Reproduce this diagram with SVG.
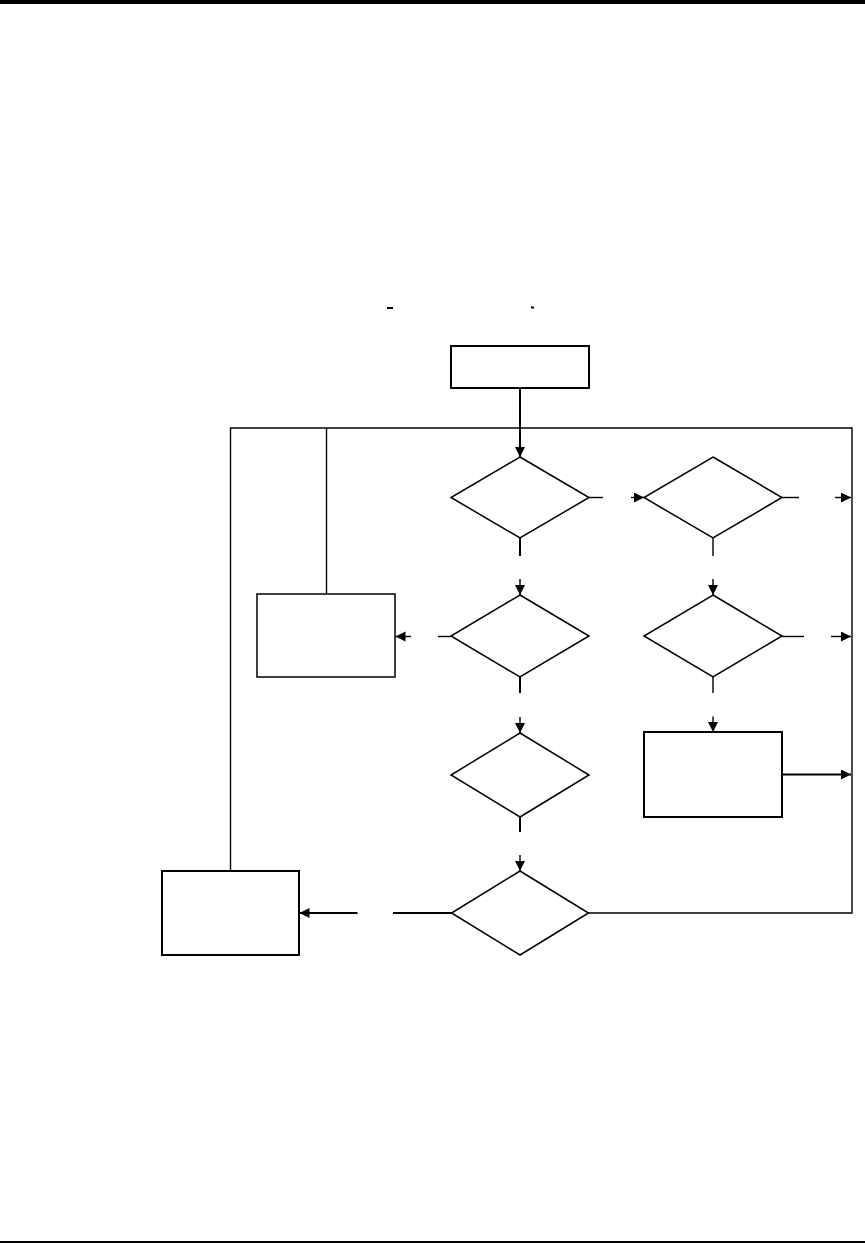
<svg xmlns="http://www.w3.org/2000/svg" width="865" height="1243" viewBox="0 0 865 1243">
<style>
.n{fill:#fff;stroke:#000;stroke-width:1.5}
.b{fill:#fff;stroke:#000;stroke-width:2}
.c{fill:none;stroke:#000;stroke-width:1.4}
.t{fill:none;stroke:#000;stroke-width:2}
</style>
<defs>
<marker id="arr" markerUnits="userSpaceOnUse" markerWidth="12" markerHeight="11" refX="10" refY="5" orient="auto">
<path d="M0,0 L10,5 L0,10 z" fill="#000"/>
</marker>
</defs>
<rect x="0" y="0" width="865" height="4" fill="#000"/>
<rect x="0" y="1241" width="865" height="2" fill="#000"/>
<rect x="387" y="307" width="6" height="2" fill="#000"/>
<rect x="531" y="306.5" width="3" height="2" fill="#000"/>
<g id="start"><rect class="b" x="451" y="346" width="138" height="42"/></g>
<g id="d1"><polygon class="n" points="520,457 589,497.5 520,538 451,497.5"/></g>
<g id="d2"><polygon class="n" points="713,457 782,497.5 713,538 644,497.5"/></g>
<g id="box2"><rect class="n" x="257" y="594" width="138" height="83"/></g>
<g id="d3"><polygon class="n" points="520,595 589,636 520,677 451,636"/></g>
<g id="d4"><polygon class="n" points="713,595 782,636 713,677 644,636"/></g>
<g id="d5"><polygon class="n" points="520,733 589,775 520,817 451,775"/></g>
<g id="box4"><rect class="b" x="644" y="732" width="138" height="85"/></g>
<g id="d6"><polygon class="n" points="520,871 588.5,913 520,955 451.5,913"/></g>
<g id="box6"><rect class="b" x="162" y="871" width="137" height="84"/></g>
<g id="connectors">
<line class="t" x1="520" y1="388" x2="520" y2="457" marker-end="url(#arr)"/>
<polyline class="c" points="230.5,871 230.5,428 852,428 852,913 588.5,913"/>
<line class="c" x1="326.5" y1="428" x2="326.5" y2="594"/>
<line class="c" x1="589" y1="497.5" x2="603" y2="497.5"/>
<line class="c" x1="631" y1="497.5" x2="644" y2="497.5" marker-end="url(#arr)"/>
<line class="c" x1="782" y1="497.5" x2="799" y2="497.5"/>
<line class="c" x1="835" y1="497.5" x2="851" y2="497.5" marker-end="url(#arr)"/>
<line class="t" x1="520" y1="538" x2="520" y2="556"/>
<line class="c" x1="520" y1="579" x2="520" y2="595" marker-end="url(#arr)"/>
<line class="c" x1="713" y1="538" x2="713" y2="556"/>
<line class="c" x1="713" y1="579" x2="713" y2="595" marker-end="url(#arr)"/>
<line class="c" x1="451" y1="636.5" x2="438" y2="636.5"/>
<line class="c" x1="411" y1="636.5" x2="395.5" y2="636.5" marker-end="url(#arr)"/>
<line class="t" x1="520" y1="677" x2="520" y2="693"/>
<line class="c" x1="520" y1="717" x2="520" y2="733" marker-end="url(#arr)"/>
<line class="c" x1="782" y1="636.5" x2="804" y2="636.5"/>
<line class="c" x1="831" y1="636.5" x2="851" y2="636.5" marker-end="url(#arr)"/>
<line class="c" x1="713" y1="677" x2="713" y2="693"/>
<line class="c" x1="713" y1="716.5" x2="713" y2="732" marker-end="url(#arr)"/>
<line class="t" x1="782" y1="774.5" x2="851" y2="774.5" marker-end="url(#arr)"/>
<line class="t" x1="520" y1="817" x2="520" y2="832"/>
<line class="c" x1="520" y1="855" x2="520" y2="871" marker-end="url(#arr)"/>
<line class="t" x1="451.5" y1="913" x2="393" y2="913"/>
<line class="t" x1="357.5" y1="913" x2="299.5" y2="913" marker-end="url(#arr)"/>
</g>
</svg>
